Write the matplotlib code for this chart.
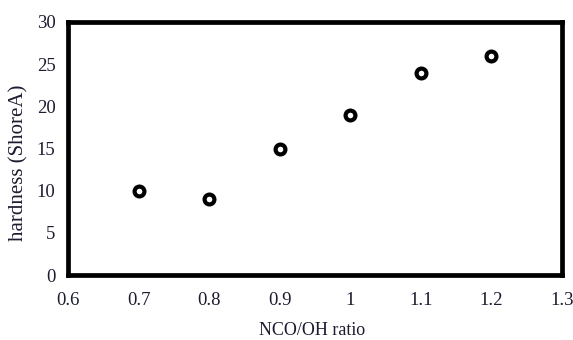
import matplotlib.pyplot as plt

plt.rcParams['font.family'] = ['Liberation Serif', 'DejaVu Serif']

nco_oh_ratio = [0.7, 0.8, 0.9, 1.0, 1.1, 1.2]
hardness = [10, 9, 15, 19, 24, 26]

x_ticks = [0.6, 0.7, 0.8, 0.9, 1.0, 1.1, 1.2, 1.3]
x_tick_labels = ['0.6', '0.7', '0.8', '0.9', '1', '1.1', '1.2', '1.3']
y_ticks = [0, 5, 10, 15, 20, 25, 30]

fig = plt.figure(figsize=(5.73, 3.4), dpi=100)
ax = fig.add_axes([68 / 573, 1 - 275 / 340, 494 / 573, 253 / 340])

ax.scatter(nco_oh_ratio, hardness, s=50, facecolors='white', edgecolors='black',
           linewidths=3, zorder=3)

ax.set_xlim(0.6, 1.3)
ax.set_ylim(0, 30)
ax.set_xticks(x_ticks)
ax.set_xticklabels(x_tick_labels)
ax.set_yticks(y_ticks)
ax.tick_params(length=0, labelsize=13.5, labelcolor='#1c1c30')
ax.tick_params(axis='x', pad=12)
ax.tick_params(axis='y', pad=9)

for s in ax.spines.values():
    s.set_linewidth(3.4)
    s.set_color('black')

ax.set_xlabel('NCO/OH ratio', fontsize=13, color='#1c1c30')
ax.set_ylabel('hardness (ShoreA)', fontsize=15, color='#1c1c30')
ax.xaxis.set_label_coords(0.495, -0.185)
ax.yaxis.set_label_coords(-0.08, 0.445)

fig.savefig('out.png', dpi=100)
